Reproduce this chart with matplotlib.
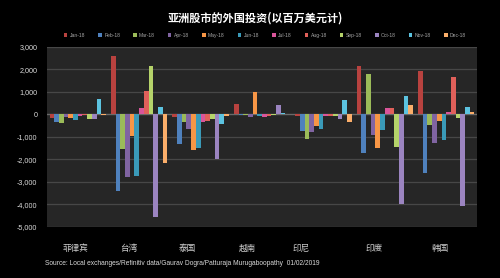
import numpy as np
import matplotlib
matplotlib.use("Agg")
import matplotlib.pyplot as plt
from matplotlib.ticker import FuncFormatter

# foreign investment in Asian equities, USD millions, per month of 2018
countries = ["菲律宾", "台湾", "泰国", "越南", "印尼", "印度", "韩国"]
months = ["Jan-18", "Feb-18", "Mar-18", "Apr-18", "May-18", "Jun-18",
          "Jul-18", "Aug-18", "Sep-18", "Oct-18", "Nov-18", "Dec-18"]
# rows = country, cols = month
flows = [
    [-150, -350, -400, -100, -150, -250, -50, -30, -200, -200, 700, -30],          # Philippines
    [2600, -3400, -1550, -2800, -950, -2750, 300, 1050, 2150, -4550, 350, -2150],  # Taiwan
    [-100, -1300, -350, -650, -1600, -1500, -350, -300, -200, -2000, -420, -50],   # Thailand
    [450, -30, -20, -100, 1000, -50, -100, -80, -30, 400, 50, 20],                 # Vietnam
    [-80, -720, -1100, -800, -500, -650, -50, -60, -50, -200, 630, -350],          # Indonesia
    [2150, -1700, 1800, -900, -1500, -700, 300, 280, -1450, -4000, 820, 430],      # India
    [1950, -2600, -450, -1250, -300, -1150, 100, 1650, -150, -4050, 350, 130],     # South Korea
]
# where the category labels sit in the reference (group index units)
label_pos = [-0.04, 0.83, 1.78, 2.77, 3.64, 4.83, 5.90]

colors = ["#b8423f", "#4f81bd", "#9bbb59", "#8064a2", "#f79646", "#3a9ab8",
          "#d9559a", "#e0605a", "#b5d36a", "#9b84c0", "#5cc3e0", "#fbae6a"]

plt.rcParams["font.family"] = ["Noto Sans CJK SC", "DejaVu Sans"]

fig = plt.figure(figsize=(5.0, 2.78), dpi=100, facecolor="black")
ax = fig.add_axes([0.094, 0.1835, 0.860, 0.6475])
ax.set_facecolor("#262626")

data = np.array(flows, dtype=float)
n_c, n_m = data.shape
x = np.arange(n_c)
w = 0.918 / n_m
for j in range(n_m):
    ax.bar(x - 0.459 + w * (j + 0.5), data[:, j], width=w, color=colors[j],
           label=months[j], zorder=3, linewidth=0)

ax.set_xlim(-0.5, n_c - 0.5)
ax.set_ylim(-5000, 3000)
ax.set_yticks(np.arange(-5000, 3001, 1000))
ax.yaxis.set_major_formatter(FuncFormatter(lambda v, p: f"{int(v):,}"))
ax.grid(axis="y", color="#474747", lw=0.9, zorder=0)
ax.axhline(0, color="#6a6a6a", lw=0.9, zorder=2)
for s in ax.spines.values():
    s.set_visible(False)
ax.tick_params(axis="y", length=0, pad=7, labelsize=5.2, labelcolor="#d9d9d9")
for t in ax.get_yticklabels():
    t.set_family(["Liberation Sans", "DejaVu Sans"])
ax.set_xticks(label_pos)
ax.set_xticklabels(countries)
ax.tick_params(axis="x", length=0, pad=12, labelsize=6.2, labelcolor="#cfcfcf")

fig.text(0.51, 0.935, "亚洲股市的外国投资(以百万美元计)", ha="center", va="center",
         color="white", fontsize=8, fontweight="bold")

leg = fig.legend(loc="center", bbox_to_anchor=(0.53, 0.874), ncol=12, frameon=False,
                 fontsize=3.6, handlelength=0.7, handleheight=0.7, handletextpad=0.5,
                 columnspacing=2.6)
for t in leg.get_texts():
    t.set_color("#a6a6a6")
    t.set_family(["Liberation Sans", "DejaVu Sans"])

fig.text(0.09, 0.053,
         "Source: Local exchanges/Refinitiv data/Gaurav Dogra/Patturaja Murugaboopathy  01/02/2019",
         ha="left", va="center", color="#d9d9d9", fontsize=4.8,
         family=["Liberation Sans", "DejaVu Sans"])

fig.savefig("out.png", dpi=100, facecolor="black")
